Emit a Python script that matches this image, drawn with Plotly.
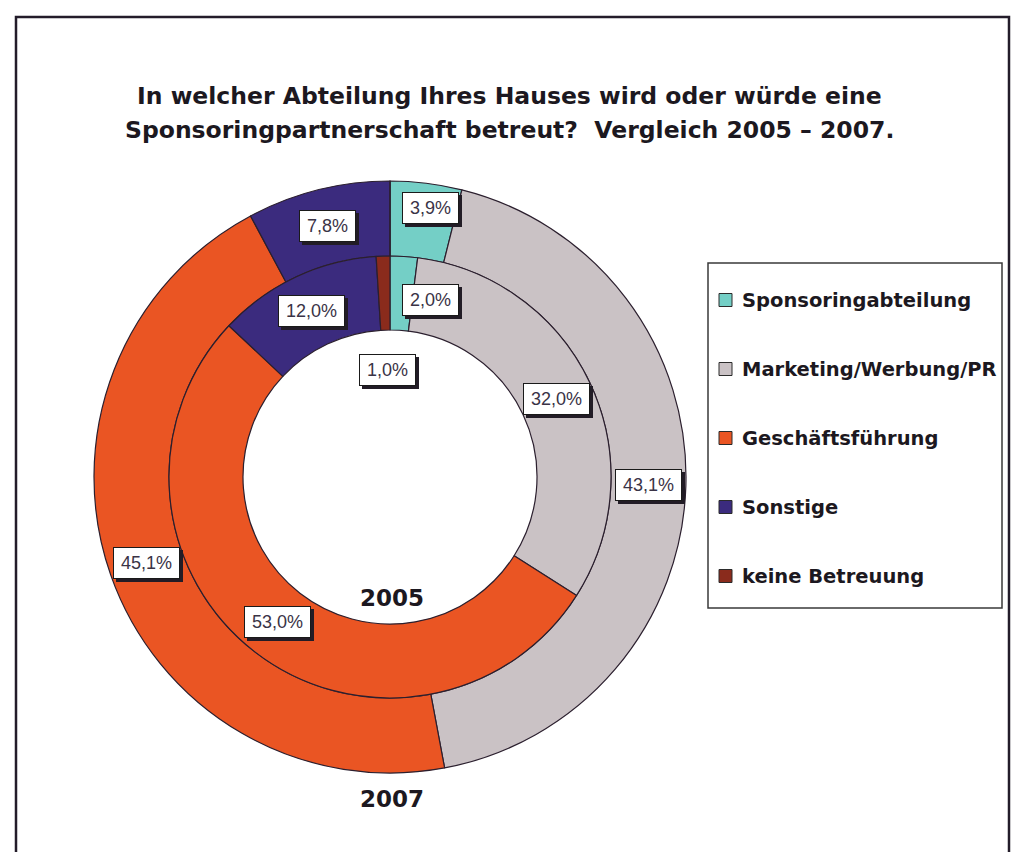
import math
import plotly.graph_objects as go

# ---------------- data ----------------
categories = ["Sponsoringabteilung", "Marketing/Werbung/PR", "Geschäftsführung",
              "Sonstige", "keine Betreuung"]
values_2005 = [2.0, 32.0, 53.0, 12.0, 1.0]
values_2007 = [3.9, 43.1, 45.1, 7.8, 0.0]
years = ["2005", "2007"]
title_lines = ["In welcher Abteilung Ihres Hauses wird oder würde eine",
               "Sponsoringpartnerschaft betreut?  Vergleich 2005 – 2007."]

# ---------------- styling / layout ----------------
colors = ["#74CFC6", "#CAC2C5", "#EA5523", "#3B2B7E", "#8A2B1C"]
edge = "#2b1f2e"
W, H = 1023, 852
CX, CY = 390, 477
R_OUT, R_MID, R_HOLE = 296, 221, 147
LABEL_SIZE = 18
LABEL_FONT = dict(family="Liberation Sans, Arial", size=LABEL_SIZE, color="#3a3346")
BOLD = "DejaVu Sans, Verdana"
CHAR_EM = {",": 0.278, "%": 0.889}

# small manual nudges (px) for labels that would collide
nudges = {("2007", 0): (9, -12), ("2005", 0): (29, 7), ("2005", 4): (3, 77)}


def px(x):
    return x / W


def py(y):
    return 1 - y / H


def dom(r):
    return dict(x=[px(CX - r), px(CX + r)], y=[py(CY + r), py(CY - r)])


def text_w(t):
    return sum(CHAR_EM.get(c, 0.556) for c in t) * LABEL_SIZE


fig = go.Figure()
fig.add_trace(go.Pie(labels=categories, values=values_2007, sort=False,
                     direction="clockwise", rotation=0, hole=R_MID / R_OUT,
                     domain=dom(R_OUT), textinfo="none", showlegend=False,
                     marker=dict(colors=colors, line=dict(color=edge, width=1.2)),
                     name="2007"))
fig.add_trace(go.Pie(labels=categories, values=values_2005, sort=False,
                     direction="clockwise", rotation=0, hole=R_HOLE / R_MID,
                     domain=dom(R_MID), textinfo="none", showlegend=False,
                     marker=dict(colors=colors, line=dict(color=edge, width=1.2)),
                     name="2005"))

annotations = []
shapes = []


def ring_labels(year, values, r):
    total = sum(values)
    cum = 0.0
    for i, v in enumerate(values):
        mid = (cum + v / 2) / total * 2 * math.pi
        cum += v
        if v <= 0:
            continue
        x = CX + r * math.sin(mid)
        y = CY - r * math.cos(mid)
        dx, dy = nudges.get((year, i), (0, 0))
        x += dx
        y += dy
        txt = f"{v:.1f}".replace(".", ",") + "%"
        w = round(text_w(txt)) + 6
        # drop shadow (empty box of the same size)
        annotations.append(dict(x=px(x), y=py(y), xref="paper", yref="paper",
                                text=" ", showarrow=False, xanchor="center",
                                yanchor="middle", width=w, height=22,
                                bgcolor="#221c26", bordercolor="#221c26",
                                borderwidth=1, borderpad=4, xshift=3, yshift=-3))
        annotations.append(dict(x=px(x), y=py(y), xref="paper", yref="paper",
                                text=txt, showarrow=False, xanchor="center",
                                yanchor="middle", width=w, height=22,
                                font=LABEL_FONT, align="center",
                                bgcolor="white", bordercolor="#1a1a1a",
                                borderwidth=1, borderpad=4))


ring_labels("2007", values_2007, (R_MID + R_OUT) / 2)
ring_labels("2005", values_2005, (R_HOLE + R_MID) / 2)

# year captions
for yr, ypos in zip(years, [598, 799]):
    annotations.append(dict(x=px(392), y=py(ypos), xref="paper", yref="paper",
                            text=f"<b>{yr}</b>", showarrow=False, xanchor="center",
                            yanchor="middle",
                            font=dict(family=BOLD, size=23, color="#1c1820")))

# title
for line, ypos in zip(title_lines, [96, 130]):
    annotations.append(dict(x=px(509), y=py(ypos), xref="paper", yref="paper",
                            text=f"<b>{line}</b>", showarrow=False, xanchor="center",
                            yanchor="middle",
                            font=dict(family=BOLD, size=23.5, color="#1c1820")))

# legend box
LX0, LY0, LX1, LY1 = 708, 263, 1002, 608
shapes.append(dict(type="rect", xref="paper", yref="paper",
                   x0=px(LX0), x1=px(LX1), y0=py(LY1), y1=py(LY0),
                   line=dict(color="#3a3a3a", width=1.5), fillcolor="white",
                   layer="below"))
for i, (cat, col) in enumerate(zip(categories, colors)):
    yc = 300 + i * 69
    shapes.append(dict(type="rect", xref="paper", yref="paper",
                       x0=px(719), x1=px(732), y0=py(yc + 6.5), y1=py(yc - 6.5),
                       line=dict(color="#2b2b2b", width=1), fillcolor=col))
    annotations.append(dict(x=px(740), y=py(yc), xref="paper", yref="paper",
                            text=f"<b>{cat}</b>", showarrow=False, xanchor="left",
                            yanchor="middle",
                            font=dict(family=BOLD, size=19.5, color="#1c1820")))

# outer frame
shapes.append(dict(type="rect", xref="paper", yref="paper",
                   x0=px(16), x1=px(1009), y0=py(870), y1=py(17),
                   line=dict(color="#231c2a", width=2.5), layer="below"))

fig.update_layout(width=W, height=H, margin=dict(l=0, r=0, t=0, b=0),
                  paper_bgcolor="white", plot_bgcolor="white",
                  annotations=annotations, shapes=shapes, showlegend=False)

fig.write_html("out.html", config={"displayModeBar": False},
               post_script="document.body.style.margin='0px';"
                           "document.body.style.overflow='hidden';")
